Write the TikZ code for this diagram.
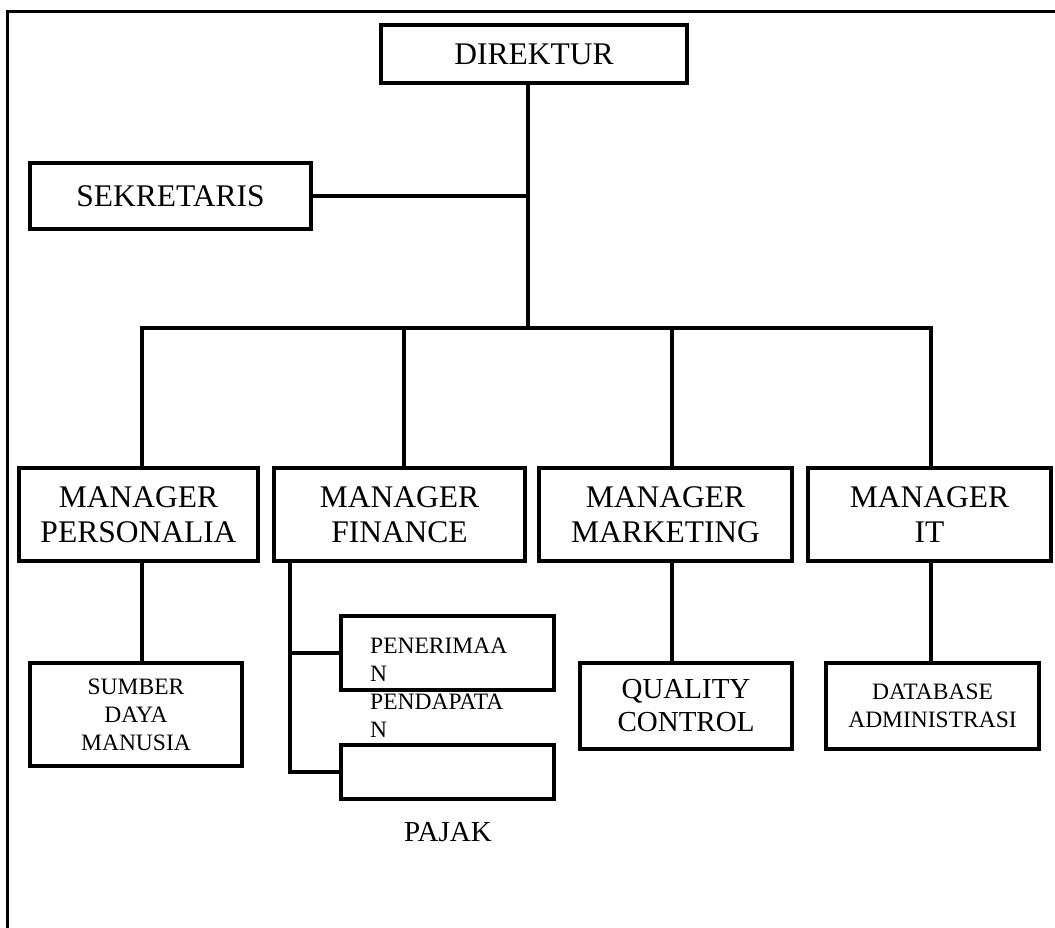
\documentclass[tikz,border=0pt]{standalone}
\usepackage{fontspec}
\setmainfont{Liberation Serif}
\tikzset{
	kotak/.style={draw,line width=3.5pt,inner sep=0pt,align=center},
	garis/.style={line width=3.5pt},
	besar/.style={font=\fontsize{31.5}{35}\selectfont},
	sedang/.style={font=\fontsize{29}{33}\selectfont},
	kecil/.style={font=\fontsize{23.5}{28}\selectfont}
}
\begin{document}
\begin{tikzpicture}[x=1pt,y=-1pt]
			\useasboundingbox (0,0) rectangle (1055,927);
			\draw[line width=3pt] (1060,11) -- (7,11) -- (7,935);
			
			\node[kotak,besar,minimum width=306pt,minimum height=58pt] (direktur) at (534,54) {DIREKTUR};
			\node[kotak,besar,minimum width=281pt,minimum height=66pt] (sekretaris) at (170.5,196) {SEKRETARIS};
			
			\node[kotak,besar,minimum width=239pt,minimum height=93pt] (mp) at (138.5,514.5) {MANAGER\\PERSONALIA};
			\node[kotak,besar,minimum width=251pt,minimum height=93pt] (mf) at (399.5,514.5) {MANAGER\\FINANCE};
			\node[kotak,besar,minimum width=253pt,minimum height=93pt] (mm) at (665.5,514.5) {MANAGER\\MARKETING};
			\node[kotak,besar,minimum width=243pt,minimum height=93pt] (mit) at (929.5,514.5) {MANAGER\\IT};
			
			\node[kotak,kecil,minimum width=212pt,minimum height=103pt] (sdm) at (136,714.5) {SUMBER\\DAYA\\MANUSIA};
			\node[kotak,minimum width=213pt,minimum height=74pt] (pen) at (447.5,653) {};
			\node[kotak,minimum width=213pt,minimum height=54pt] (pajak) at (447.5,772) {};
			\node[kotak,sedang,minimum width=212pt,minimum height=86pt] (qc) at (686,706) {QUALITY\\CONTROL};
			\node[kotak,kecil,minimum width=213pt,minimum height=86pt] (da) at (932.5,706) {DATABASE\\ADMINISTRASI};
			
			\node[kecil,align=left,anchor=west,inner sep=0pt] (pentext) at (370,688) {PENERIMAA\\N\\PENDAPATA\\N};
			\node[sedang,inner sep=0pt] (pajaktext) at (448,832) {PAJAK};
			
			\coordinate (bus) at (528,328);
			\coordinate (b1) at (142,328);
			\coordinate (b2) at (404,328);
			\coordinate (b3) at (672,328);
			\coordinate (b4) at (931,328);
			\coordinate (cabang) at (290,0);
			
			\draw[garis] (bus |- direktur.south) -- (bus);
			\draw[garis] (sekretaris.east) -- (sekretaris.east -| bus);
			\draw[garis] (b1 |- mp.north) -- (b1) -- (b4) -- (b4 |- mit.north);
			\draw[garis] (b2) -- (b2 |- mf.north);
			\draw[garis] (b3) -- (b3 |- mm.north);
			
			\draw[garis] (b1 |- mp.south) -- (b1 |- sdm.north);
			\draw[garis] (b3 |- mm.south) -- (b3 |- qc.north);
			\draw[garis] (b4 |- mit.south) -- (b4 |- da.north);
			\draw[garis] (cabang |- mf.south) -- (cabang |- pajak.west) -- (pajak.west);
			\draw[garis] (cabang |- pen.west) -- (pen.west);
		\end{tikzpicture}
\end{document}
